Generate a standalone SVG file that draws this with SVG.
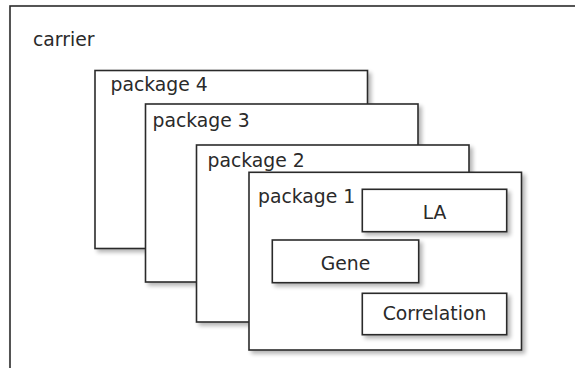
<svg xmlns="http://www.w3.org/2000/svg" width="575" height="368" viewBox="0 0 575 368">
  <style>
    .box { fill: #ffffff; stroke: #2b2b2b; stroke-width: 1.6; filter: url(#shadow); }
    .lbl { font-family: "DejaVu Sans", "Liberation Sans", sans-serif; font-size: 18.8px; fill: #2a2a2a; }
    .mid { text-anchor: middle; }
  </style>
  <defs>
    <filter id="shadow" x="-10%" y="-10%" width="130%" height="130%">
      <feGaussianBlur in="SourceAlpha" stdDeviation="2.2"/>
      <feOffset dx="3" dy="3" result="b"/>
      <feComponentTransfer><feFuncA type="linear" slope="0.3"/></feComponentTransfer>
      <feMerge><feMergeNode/><feMergeNode in="SourceGraphic"/></feMerge>
    </filter>
  </defs>
  <rect width="575" height="368" fill="#ffffff"/>

  <g id="carrier">
    <rect class="box" x="10" y="6" width="580" height="380"/>
    <text class="lbl" x="33" y="46">carrier</text>
  </g>
  <g id="package4">
    <rect class="box" x="95" y="70.5" width="272.5" height="178"/>
    <text class="lbl" x="110.5" y="90.5">package 4</text>
  </g>
  <g id="package3">
    <rect class="box" x="145.5" y="104" width="272.5" height="178"/>
    <text class="lbl" x="152.5" y="127">package 3</text>
  </g>
  <g id="package2">
    <rect class="box" x="196.5" y="145" width="272.5" height="177"/>
    <text class="lbl" x="207.5" y="167">package 2</text>
  </g>
  <g id="package1">
    <rect class="box" x="249" y="172.3" width="272.5" height="177.7"/>
    <text class="lbl" x="258" y="203">package 1</text>
  </g>
  <g id="la">
    <rect class="box" x="362.3" y="189.3" width="144.4" height="42.4"/>
    <text class="lbl mid" x="434.5" y="219.3">LA</text>
  </g>
  <g id="gene">
    <rect class="box" x="272.3" y="240" width="146.4" height="42.7"/>
    <text class="lbl mid" x="345.5" y="270">Gene</text>
  </g>
  <g id="correlation">
    <rect class="box" x="362.3" y="293.3" width="144.4" height="41.4"/>
    <text class="lbl mid" x="434.5" y="320">Correlation</text>
  </g>
  <g id="connectors"/>
</svg>
